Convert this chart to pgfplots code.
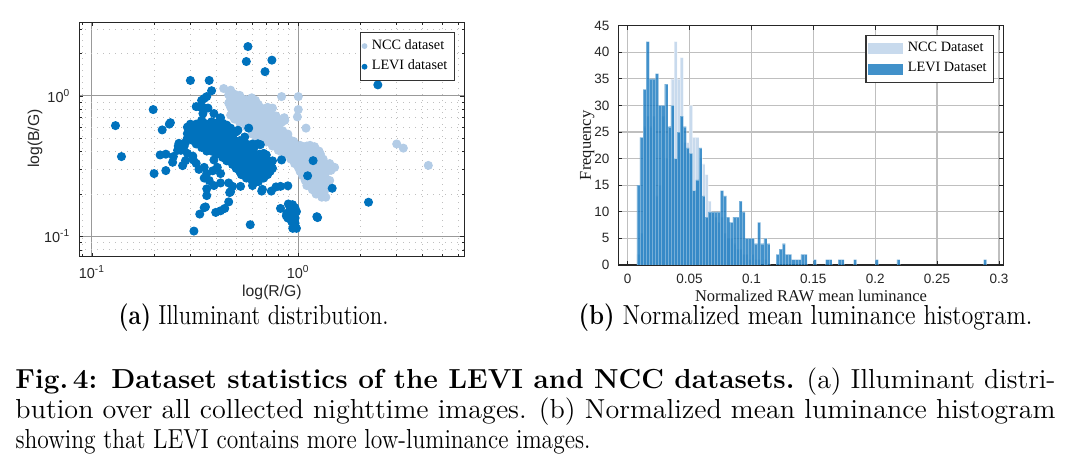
\documentclass[border=0pt]{standalone}
\usepackage{fontspec}
\usepackage{graphicx}
\usepackage{pgfplots}
\usepackage{pgfplotstable}
\pgfplotsset{compat=1.18}

\newfontfamily\arialfont{Liberation Sans}
\newfontfamily\serifont{Liberation Serif}

\definecolor{levi}{RGB}{0,114,189}
\definecolor{ncc}{RGB}{179,204,230}
\definecolor{levibar}{RGB}{24,121,191}
\definecolor{nccbar}{RGB}{200,218,237}

% (R/G, B/G) illuminant ratios
\pgfplotstableread{
x y
0.435 1.13
0.47 1.10
0.46 1.02
0.49 1.03
0.52 1.01
0.595 0.97
0.83 0.99
1.00 0.99
0.47 0.95
0.50 0.95
0.53 0.96
0.56 0.94
0.59 0.95
0.62 0.93
0.46 0.89
0.49 0.88
0.52 0.90
0.55 0.89
0.58 0.88
0.61 0.89
0.64 0.87
0.47 0.83
0.50 0.84
0.53 0.82
0.56 0.83
0.59 0.84
0.62 0.82
0.65 0.83
0.68 0.81
0.71 0.83
0.75 0.82
1.00 0.80
0.48 0.78
0.51 0.77
0.54 0.79
0.57 0.78
0.60 0.77
0.63 0.78
0.66 0.76
0.69 0.78
0.72 0.77
0.47 0.73
0.50 0.72
0.53 0.74
0.56 0.73
0.59 0.72
0.62 0.74
0.65 0.73
0.68 0.72
0.71 0.74
0.74 0.73
0.78 0.72
0.99 0.71
0.49 0.685
0.52 0.69
0.55 0.68
0.58 0.69
0.61 0.685
0.64 0.68
0.67 0.69
0.70 0.68
0.73 0.69
0.76 0.68
0.80 0.685
0.855 0.70
0.52 0.645
0.55 0.65
0.58 0.64
0.61 0.645
0.64 0.65
0.67 0.64
0.70 0.645
0.73 0.65
0.76 0.64
0.79 0.645
0.83 0.65
0.86 0.67
0.56 0.605
0.59 0.61
0.62 0.60
0.65 0.605
0.68 0.61
0.71 0.60
0.74 0.605
0.77 0.61
0.80 0.60
0.60 0.57
0.63 0.575
0.66 0.565
0.69 0.57
0.72 0.575
0.75 0.565
0.78 0.57
0.81 0.575
0.84 0.565
1.09 0.59
0.60 0.535
0.63 0.54
0.66 0.53
0.69 0.535
0.72 0.54
0.75 0.53
0.78 0.535
0.81 0.54
0.85 0.53
0.89 0.535
0.63 0.50
0.66 0.505
0.69 0.495
0.72 0.50
0.75 0.505
0.78 0.495
0.82 0.50
0.86 0.505
0.90 0.495
0.70 0.47
0.73 0.475
0.76 0.465
0.79 0.47
0.83 0.475
0.87 0.465
0.91 0.47
0.95 0.475
0.75 0.44
0.78 0.445
0.82 0.435
0.86 0.44
0.90 0.445
0.94 0.435
0.98 0.44
1.02 0.445
1.06 0.435
1.10 0.44
1.14 0.445
1.20 0.435
0.80 0.41
0.84 0.415
0.88 0.405
0.92 0.41
0.96 0.415
1.00 0.405
1.04 0.41
1.08 0.415
1.12 0.405
1.16 0.41
1.21 0.415
1.26 0.405
0.85 0.38
0.89 0.385
0.93 0.375
0.97 0.38
1.01 0.385
1.05 0.375
1.09 0.38
1.13 0.385
1.18 0.375
1.23 0.38
1.28 0.385
0.83 0.355
0.92 0.355
0.96 0.36
1.00 0.35
1.04 0.355
1.08 0.36
1.12 0.35
1.17 0.355
1.22 0.36
1.27 0.35
1.32 0.355
0.96 0.33
1.00 0.335
1.05 0.325
1.10 0.33
1.15 0.335
1.20 0.325
1.25 0.33
1.30 0.335
1.36 0.325
1.42 0.33
1.00 0.31
1.05 0.315
1.10 0.305
1.15 0.31
1.20 0.315
1.26 0.305
1.32 0.31
1.38 0.315
1.44 0.305
1.50 0.31
1.02 0.29
1.07 0.295
1.12 0.285
1.17 0.29
1.23 0.295
1.30 0.285
1.37 0.29
1.44 0.295
1.05 0.27
1.10 0.275
1.15 0.265
1.21 0.27
1.28 0.275
1.35 0.265
1.42 0.25
1.08 0.25
1.13 0.255
1.18 0.245
1.24 0.25
1.30 0.255
1.37 0.245
1.10 0.23
1.15 0.235
1.21 0.225
1.27 0.23
1.33 0.235
1.17 0.215
1.23 0.22
1.29 0.21
1.35 0.215
1.22 0.20
1.28 0.205
1.34 0.195
1.30 0.19
1.36 0.19
3.00 0.455
3.23 0.425
4.27 0.32
}\nccpts

\pgfplotstableread{
x y
0.57 2.25
0.56 1.76
0.745 1.80
0.69 1.49
0.30 1.29
0.37 1.29
0.38 1.09
2.43 1.20
0.13 0.615
0.139 0.37
0.198 0.80
0.20 0.28
0.219 0.573
0.237 0.63
0.240 0.645
0.214 0.38
0.228 0.385
0.228 0.294
0.246 0.337
0.248 0.37
0.26 0.41
0.262 0.44
0.264 0.46
0.275 0.319
0.284 0.346
0.312 0.109
0.333 0.144
0.35 0.16
0.355 0.162
0.36 0.218
0.36 0.195
0.35 0.26
0.398 0.148
0.42 0.152
0.44 0.158
0.46 0.176
0.465 0.205
0.47 0.208
0.585 0.121
0.82 0.158
0.89 0.229
0.82 0.227
0.74 0.21
0.78 0.225
0.67 0.216
0.895 0.17
0.91 0.163
0.938 0.168
0.963 0.16
0.88 0.146
0.91 0.142
0.94 0.146
0.965 0.135
0.89 0.135
0.93 0.127
0.965 0.124
0.94 0.114
0.98 0.114
0.875 0.14
0.98 0.15
0.95 0.155
1.23 0.138
1.24 0.136
1.46 0.22
2.19 0.175
1.18 0.346
1.11 0.27
0.83 0.35
0.74 0.337
0.75 0.345
0.655 0.45
0.64 0.455
0.575 0.59
0.55 0.51
0.51 0.57
0.35 0.96
0.345 0.83
0.33 0.84
0.32 0.84
0.34 0.93
0.36 0.99
0.365 0.82
0.345 0.75
0.34 0.67
0.345 0.65
0.308 0.373
0.32 0.331
0.31 0.35
0.33 0.30
0.35 0.31
0.36 0.28
0.37 0.25
0.39 0.23
0.42 0.24
0.46 0.24
0.48 0.227
0.525 0.227
0.60 0.23
0.665 0.21
0.64 0.25
0.385 0.293
0.405 0.31
0.39 0.35
0.42 0.28
0.60 0.455
0.635 0.455
0.68 0.39
0.70 0.38
0.50 0.555
0.47 0.59
0.41 0.65
0.42 0.70
0.39 0.75
0.38 0.655
0.43 0.64
0.45 0.62
0.27 0.41
0.28 0.44
0.29 0.39
0.285 0.47
0.29 0.50
0.30 0.55
0.30 0.63
0.32 0.63
0.34 0.63
0.36 0.63
0.38 0.63
0.40 0.63
0.29 0.60
0.31 0.60
0.33 0.60
0.35 0.60
0.37 0.60
0.39 0.60
0.41 0.60
0.43 0.60
0.30 0.57
0.32 0.57
0.34 0.57
0.36 0.57
0.38 0.57
0.40 0.57
0.42 0.57
0.44 0.57
0.46 0.57
0.29 0.54
0.31 0.54
0.33 0.54
0.35 0.54
0.37 0.54
0.39 0.54
0.41 0.54
0.43 0.54
0.45 0.54
0.47 0.54
0.30 0.51
0.32 0.51
0.34 0.51
0.36 0.51
0.38 0.51
0.40 0.51
0.42 0.51
0.44 0.51
0.46 0.51
0.48 0.51
0.31 0.48
0.33 0.48
0.35 0.48
0.37 0.48
0.39 0.48
0.41 0.48
0.43 0.48
0.45 0.48
0.47 0.48
0.49 0.48
0.52 0.48
0.32 0.455
0.34 0.455
0.36 0.455
0.38 0.455
0.40 0.455
0.42 0.455
0.44 0.455
0.46 0.455
0.48 0.455
0.50 0.455
0.53 0.455
0.56 0.455
0.34 0.43
0.36 0.43
0.38 0.43
0.40 0.43
0.42 0.43
0.44 0.43
0.46 0.43
0.48 0.43
0.50 0.43
0.52 0.43
0.55 0.43
0.58 0.43
0.61 0.43
0.36 0.405
0.38 0.405
0.40 0.405
0.42 0.405
0.44 0.405
0.46 0.405
0.48 0.405
0.50 0.405
0.52 0.405
0.54 0.405
0.57 0.405
0.60 0.405
0.40 0.385
0.42 0.385
0.44 0.385
0.46 0.385
0.48 0.385
0.50 0.385
0.52 0.385
0.54 0.385
0.56 0.385
0.59 0.385
0.62 0.385
0.65 0.385
0.43 0.365
0.45 0.365
0.47 0.365
0.49 0.365
0.51 0.365
0.53 0.365
0.55 0.365
0.57 0.365
0.60 0.365
0.63 0.365
0.66 0.365
0.69 0.365
0.45 0.345
0.47 0.345
0.49 0.345
0.51 0.345
0.53 0.345
0.55 0.345
0.57 0.345
0.60 0.345
0.63 0.345
0.66 0.345
0.69 0.345
0.72 0.345
0.48 0.325
0.50 0.325
0.52 0.325
0.54 0.325
0.56 0.325
0.58 0.325
0.61 0.325
0.64 0.325
0.67 0.325
0.70 0.325
0.73 0.325
0.50 0.305
0.52 0.305
0.54 0.305
0.56 0.305
0.58 0.305
0.60 0.305
0.63 0.305
0.66 0.305
0.69 0.305
0.72 0.305
0.75 0.305
0.52 0.29
0.55 0.29
0.58 0.29
0.61 0.29
0.64 0.29
0.67 0.29
0.70 0.29
0.73 0.29
0.53 0.275
0.56 0.275
0.59 0.275
0.62 0.275
0.65 0.275
0.68 0.275
0.71 0.275
0.56 0.26
0.59 0.26
0.62 0.26
0.65 0.26
0.68 0.26
0.60 0.245
0.64 0.245
}\levipts

% histogram counts, left bin edge and count, bin width 0.0025
\pgfplotstableread{
e n
0.0075 2
0.0100 6
0.0125 26
0.0150 28
0.0175 26
0.0200 28
0.0225 13
0.0250 15
0.0275 28
0.0300 20
0.0325 26
0.0350 35
0.0375 42
0.0400 35
0.0425 39
0.0450 23
0.0475 23
0.0500 30
0.0525 24
0.0550 24
0.0575 20
0.0600 19
0.0625 17
0.0650 12
0.0675 10
0.0700 9
0.0725 8
0.0750 9
0.0775 6
0.0800 5
0.0825 5
0.0850 4
0.0875 3
0.0900 3
0.0925 2
0.0950 2
0.0975 1
0.1000 2
0.1025 1
0.1050 1
0.1100 1
}\ncchist

\pgfplotstableread{
e n
0.0075 15
0.0100 24
0.0125 33
0.0150 42
0.0175 35
0.0200 35
0.0225 36
0.0250 30
0.0275 30
0.0300 34
0.0325 26
0.0350 30
0.0375 20
0.0400 25
0.0425 28
0.0450 26
0.0475 22
0.0500 21
0.0525 14
0.0550 16
0.0575 22
0.0600 13
0.0625 9
0.0650 10
0.0675 10
0.0700 10
0.0725 10
0.0750 14
0.0775 13
0.0800 9
0.0825 8
0.0850 9
0.0875 9
0.0900 12
0.0925 10
0.0950 5
0.0975 5
0.1000 5
0.1025 4
0.1050 8
0.1075 4
0.1100 5
0.1125 4
0.1200 2
0.1225 3
0.1250 4
0.1275 2
0.1300 2
0.1325 1
0.1350 1
0.1375 1
0.1400 2
0.1425 2
0.1500 1
0.1600 1
0.1625 1
0.1700 1
0.1725 1
0.1825 1
0.2000 1
0.2175 1
0.2875 1
}\levihist

\begin{document}
\begin{tikzpicture}
\useasboundingbox (0,0) rectangle (427.2pt,188.8pt);

% (a) illuminant scatter
\begin{axis}[
  at={(31.72pt,86.12pt)}, anchor=south west,
  scale only axis, width=154pt, height=93.76pt,
  xmode=log, ymode=log,
  xmin=0.0868, xmax=6.38, ymin=0.0716, ymax=3.35,
  xtick={0.1,1}, ytick={0.1,1},
  xticklabels={10\textsuperscript{-1},10\textsuperscript{0}},
  yticklabels={10\textsuperscript{-1},10\textsuperscript{0}},
  minor xtick={0.09,0.2,0.3,0.4,0.5,0.6,0.7,0.8,0.9,2,3,4,5,6},
  minor ytick={0.08,0.09,0.2,0.3,0.4,0.5,0.6,0.7,0.8,0.9,2,3},
  grid=both,
  major grid style={black!40, line width=0.4pt},
  minor grid style={black!25, dotted, line width=0.35pt},
  tick align=inside, major tick length=1.6pt, minor tick length=0.9pt,
  axis line style={black!85, line width=0.45pt},
  tick style={black!85, line width=0.3pt},
  ticklabel style={font=\arialfont\fontsize{5.8}{6.5}\selectfont, text=black!85},
  xlabel={log(R/G)}, ylabel={log(B/G)},
  label style={font=\arialfont\fontsize{6.3}{7}\selectfont, text=black!85},
  xlabel style={at={(axis description cs:0.5005,-0.1506)}, anchor=center},
  ylabel style={at={(axis description cs:-0.115,0.504)}, anchor=center},
  legend style={at={(axis description cs:0.9758,0.96)}, anchor=north east,
    font=\serifont\fontsize{5.7}{6.5}\selectfont, draw=black!80, line width=0.5pt,
    inner sep=0.8pt, row sep=-1.2pt, cells={anchor=west}},
  legend image post style={mark size=0.9pt},
  legend image code/.code={\draw[#1] plot coordinates {(0.16cm,0cm)};},
]
\addplot[only marks, mark=*, mark size=1.6pt, color=ncc] table[x=x,y=y] {\nccpts};
\addlegendentry{NCC dataset}
\addplot[only marks, mark=*, mark size=1.6pt, color=levi] table[x=x,y=y] {\levipts};
\addlegendentry{LEVI dataset}
\end{axis}

% (b) luminance histogram
\begin{axis}[
  at={(247.32pt,82.8pt)}, anchor=south west,
  scale only axis, width=154pt, height=95.72pt,
  xmin=-0.0075, xmax=0.3035, ymin=0, ymax=45,
  xtick={0,0.05,0.1,0.15,0.2,0.25,0.3},
  xticklabels={0,0.05,0.1,0.15,0.2,0.25,0.3},
  ytick={0,5,10,15,20,25,30,35,40,45},
  yticklabels={0,5,10,15,20,25,30,35,40,45},
  scaled x ticks=false,
  grid=major,
  major grid style={black!25, line width=0.5pt},
  tick align=inside, major tick length=1.6pt,
  axis line style={black!85, line width=0.45pt},
  tick style={black!85, line width=0.3pt},
  ticklabel style={font=\arialfont\fontsize{5.4}{6}\selectfont, text=black!85},
  xlabel={Normalized RAW mean luminance}, ylabel={Frequency},
  label style={font=\serifont\fontsize{6.6}{7.5}\selectfont, text=black!90},
  xlabel style={at={(axis description cs:0.5005,-0.13)}, anchor=center},
  ylabel style={at={(axis description cs:-0.081,0.50)}, anchor=center},
  legend style={at={(axis description cs:0.9766,0.9624)}, anchor=north east,
    font=\serifont\fontsize{5.7}{6.5}\selectfont, draw=black!80, line width=0.5pt,
    inner sep=0.8pt, row sep=-1.2pt, cells={anchor=west}},
  legend image code/.code={\fill[#1, draw=none] (0pt,-2.2pt) rectangle (14pt,2.2pt);},
]
\addplot[ybar, bar width=0.0025, fill=nccbar, draw=white, draw opacity=0.4, line width=0.15pt]
  table[x expr=\thisrow{e}+0.00125, y=n] {\ncchist};
\addlegendentry{NCC Dataset}
\addplot[ybar, bar width=0.0025, fill=levibar, fill opacity=0.82, draw=white, draw opacity=0.3, line width=0.15pt]
  table[x expr=\thisrow{e}+0.00125, y=n] {\levihist};
\addlegendentry{LEVI Dataset}
\end{axis}

% captions
\node[anchor=base west, inner sep=0pt] at (47.2pt,58.8pt)
  {\resizebox{108pt}{\height}{\fontsize{11}{13}\selectfont\textbf{(a)} Illuminant distribution.}};
\node[anchor=base west, inner sep=0pt] at (231.2pt,58.8pt)
  {\resizebox{181.6pt}{\height}{\fontsize{11}{13}\selectfont\textbf{(b)} Normalized mean luminance histogram.}};
\node[anchor=base west, inner sep=0pt] at (6pt,33.2pt)
  {\resizebox{416pt}{\height}{\fontsize{11}{13}\selectfont\textbf{Fig.\,4: Dataset statistics of the LEVI and NCC datasets.} (a) Illuminant distri-}};
\node[anchor=base west, inner sep=0pt] at (6pt,21.2pt)
  {\resizebox{416pt}{\height}{\fontsize{11}{13}\selectfont bution over all collected nighttime images. (b) Normalized mean luminance histogram}};
\node[anchor=base west, inner sep=0pt] at (6pt,9.2pt)
  {\resizebox{230pt}{\height}{\fontsize{11}{13}\selectfont showing that LEVI contains more low-luminance images.}};
\end{tikzpicture}
\end{document}
